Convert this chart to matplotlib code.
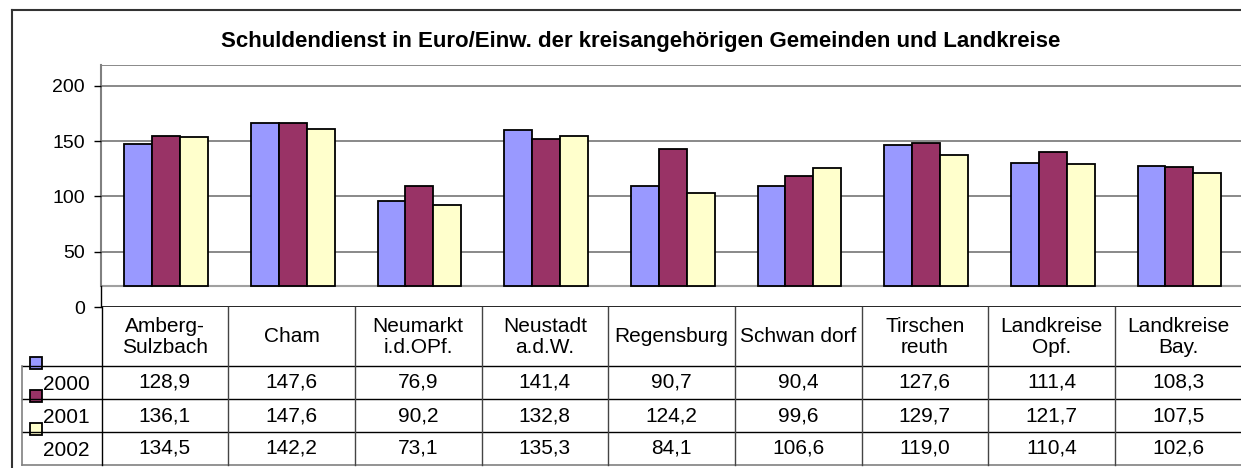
import numpy as np
import matplotlib
matplotlib.use("Agg")
import matplotlib.pyplot as plt
from matplotlib.patches import Rectangle

plt.rcParams['font.family'] = ['Liberation Sans', 'DejaVu Sans']

# data
categories = ["Amberg-\nSulzbach", "Cham", "Neumarkt\ni.d.OPf.", "Neustadt\na.d.W.",
              "Regensburg", "Schwan dorf", "Tirschen\nreuth", "Landkreise\nOpf.",
              "Landkreise\nBay."]
years = ["2000", "2001", "2002"]
v2000 = [128.9, 147.6, 76.9, 141.4, 90.7, 90.4, 127.6, 111.4, 108.3]
v2001 = [136.1, 147.6, 90.2, 132.8, 124.2, 99.6, 129.7, 121.7, 107.5]
v2002 = [134.5, 142.2, 73.1, 135.3, 84.1, 106.6, 119.0, 110.4, 102.6]
colors = ["#9999FF", "#993366", "#FFFFCC"]
title = "Schuldendienst in Euro/Einw. der kreisangehörigen Gemeinden und Landkreise"

series = [v2000, v2001, v2002]

W, H = 1241, 468
fig = plt.figure(figsize=(W / 100, H / 100), dpi=100)

# pixel layout
ax_left, ax_right = 101.5, 1241.5
ax_top, ax_bot = 65, 307
floor = 19          # depth offset of the 3d floor (value units)
ymax = 219
fs = 15

ax = fig.add_axes([ax_left / W, 1 - ax_bot / H, (ax_right - ax_left) / W, (ax_bot - ax_top) / H])
ax.set_xlim(-0.5, len(categories) - 0.5)
ax.set_ylim(0, ymax)
for s in ax.spines.values():
    s.set_visible(False)
ax.set_xticks([])
ax.set_yticks([0, 50, 100, 150, 200])
ax.tick_params(axis='y', length=5, width=1, color='black', pad=7, labelsize=14)

# back wall + gridlines
for g in [50, 100, 150, 200, ymax]:
    ax.axhline(g, color='#808080', lw=1.3, zorder=1)
ax.axhline(floor, color='#a0a0a0', lw=1.5, zorder=1)
ax.plot([-0.5, -0.5], [floor, ymax], color='#808080', lw=1.5, clip_on=False, zorder=1)
ax.plot([-0.5, -0.5], [0, floor], color='black', lw=1, clip_on=False, zorder=1)
ax.axhline(0, color='black', lw=1.2, zorder=1)

x = np.arange(len(categories))
w = 0.22
for j, vals in enumerate(series):
    ax.bar(x + (j - 1) * w + 0.01, vals, width=w, bottom=floor, color=colors[j],
           edgecolor='black', linewidth=1.3, zorder=3)

# overlay for title, table and frame (pixel coords)
ov = fig.add_axes([0, 0, 1, 1], facecolor='none')
ov.set_xlim(0, W)
ov.set_ylim(H, 0)
ov.axis('off')

ov.plot([12, 12], [10, H], color='#333333', lw=1.5)
ov.plot([12, W], [10, 10], color='#333333', lw=1.5)

ov.text(641, 41, title, ha='center', va='center', fontsize=16, fontweight='bold')

col_w = (ax_right - ax_left) / len(categories)
head_top, row_top, row_h = 307, 366, 33
tab_left = 22
n_rows = len(years)
tab_bot = row_top + n_rows * row_h

# horizontal lines
for r in range(n_rows):
    yy = row_top + r * row_h
    ov.plot([tab_left, W], [yy, yy], color='black', lw=1)
ov.plot([tab_left, W], [tab_bot, tab_bot], color='#808080', lw=1.2)
# vertical lines
ov.plot([tab_left, tab_left], [row_top, tab_bot], color='#808080', lw=1.2)
for i in range(len(categories)):
    xx = ax_left + i * col_w
    ov.plot([xx, xx], [head_top, tab_bot], color='#444444' if i else 'black', lw=1)

for i, cat in enumerate(categories):
    cx = ax_left + (i + 0.5) * col_w
    ov.text(cx, 337, cat, ha='center', va='center', fontsize=fs, linespacing=1.08)
    for r, vals in enumerate(series):
        ov.text(cx, row_top + (r + 0.5) * row_h, f"{vals[i]:.1f}".replace('.', ','),
                ha='center', va='center', fontsize=fs)

for r, yr in enumerate(years):
    yy = row_top + r * row_h
    ov.add_patch(Rectangle((30, yy - 9), 12, 12, facecolor=colors[r], edgecolor='black', lw=1.3))
    ov.text(66, yy + row_h / 2 + 2, yr, ha='center', va='center', fontsize=fs)

fig.savefig("out.png", dpi=100)
